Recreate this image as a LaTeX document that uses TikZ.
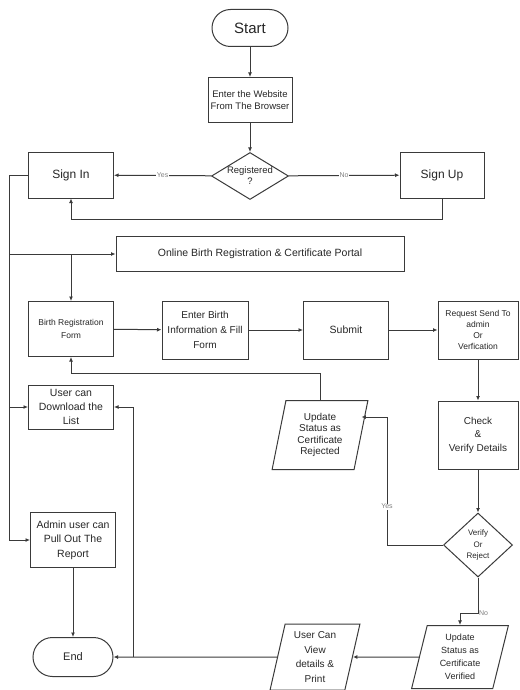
\documentclass[tikz,border=0pt]{standalone}
\usepackage{fontspec}
\setmainfont{Liberation Sans}
\usetikzlibrary{shapes.geometric,shapes.misc,arrows.meta,calc}
\definecolor{linec}{HTML}{3A3A3A}
\definecolor{textc}{HTML}{262626}
\newcommand\fsz[2]{\fontsize{#1}{#2}\selectfont}

\begin{document}
\begin{tikzpicture}[x=1pt,y=-1pt,line width=1pt,draw=linec,
 box/.style={draw=linec,text=textc,rectangle,align=center,inner sep=1pt},
 term/.style={draw=linec,text=textc,rounded rectangle,inner sep=1pt},
 dec/.style={draw=linec,text=textc,diamond,align=center,inner sep=0pt},
 io/.style={draw=linec,text=textc,trapezium,trapezium left angle=78,trapezium right angle=102,
  trapezium stretches=true,align=center,inner sep=1pt},
 lab/.style={text=gray,fill=white,inner sep=0.5pt,font=\fsz{7}{8}},
 arr/.style={-{Latex[length=4.5pt,width=4pt]}}]

\useasboundingbox (0,0) rectangle (519,690);

\node[term,minimum width=78,minimum height=37,font=\fsz{15}{18}] (start) at (250,28) {Start};
\node[box,minimum width=84,minimum height=45,font=\fsz{9.5}{11.7}] (web) at (250,100) {Enter the Website\\From The Browser};
\node[dec,minimum width=77,minimum height=47,aspect=1.64,font=\fsz{9.5}{11}] (reg) at (250,176) {Registered\\?};
\node[box,minimum width=85,minimum height=46,font=\fsz{12}{14}] (signin) at (71,175) {Sign In};
\node[box,minimum width=84,minimum height=46,font=\fsz{12}{14}] (signup) at (442,175) {Sign Up};

\node[box,minimum width=288,minimum height=35,font=\fsz{10.5}{12}] (portal) at (260,254) {Online Birth Registration \& Certificate Portal};
\node[box,minimum width=85,minimum height=55,font=\fsz{8.5}{13}] (birthform) at (71,329) {Birth Registration\\Form};
\node[box,minimum width=86,minimum height=58,font=\fsz{10}{15}] (info) at (205,330) {Enter Birth\\Information \& Fill\\Form};
\node[box,minimum width=85,minimum height=58,font=\fsz{10.5}{12}] (submit) at (346,330) {Submit};
\node[box,minimum width=80,minimum height=58,font=\fsz{8.5}{11}] (request) at (478,330) {Request Send To\\admin\\Or\\Verfication};

\node[box,minimum width=85,minimum height=44,font=\fsz{10.5}{14}] (dl) at (71,407) {User can\\Download the\\List};
\node[io,minimum width=96,minimum height=69,font=\fsz{10}{11.2}] (rejected) at (320,435) {Update\\Status as\\Certificate\\Rejected};
\node[box,minimum width=80,minimum height=68,font=\fsz{10}{13.5}] (check) at (478,435) {Check\\\&\\Verify Details};

\node[box,minimum width=85,minimum height=55,font=\fsz{10.5}{14.5}] (admin) at (73,540) {Admin user can\\Pull Out The\\Report};
\node[dec,minimum width=69,minimum height=64,aspect=1.08,font=\fsz{8}{11.5}] (verify) at (478,545) {Verify\\Or\\Reject};

\node[term,minimum width=82,minimum height=39,font=\fsz{11}{13}] (endn) at (73,657) {End};
\node[io,minimum width=90,minimum height=66,font=\fsz{10}{14.5}] (view) at (315,657) {User Can\\View\\details \&\\Print};
\node[io,minimum width=97,minimum height=63,font=\fsz{9}{13}] (verified) at (460,657) {Update\\Status as\\Certificate\\Verified};

\coordinate (spine) at (9,175);
\coordinate (yesbend) at (387,417);

\draw[arr] (start) -- (web);
\draw[arr] (web) -- (reg);
\draw[arr] (reg) -- node[lab]{Yes} (signin);
\draw[arr] (reg) -- node[lab]{No} (signup);
\draw[arr] (signup.south) -- ++(0,21) -| (signin.south);

\draw[arr] (signin.west) -- (spine) |- (admin.west);
\draw[arr] (spine |- portal) -- (portal.west);
\draw[arr] (spine |- dl) -- (dl.west);
\draw[arr] (birthform.north |- portal) -- (birthform);

\draw[arr] (birthform) -- (info);
\draw[arr] (info) -- (submit);
\draw[arr] (submit) -- (request);
\draw[arr] (request) -- (check);
\draw[arr] (check) -- (verify);

\draw[arr] (verify.west) -| node[lab,pos=0.65]{Yes} (yesbend) -- (yesbend -| rejected.east);
\draw[arr] (rejected.north) -- ++(0,-26) -| (birthform.south);
\draw[arr] (verify.south) -- ++(0,36) node[lab,right=0pt]{No} -| (verified.north);

\draw[arr] (verified) -- (view);
\draw[arr] (view) -- (endn);
\draw[arr] ($(endn.east)+(20,0)$) |- (dl.east);
\draw[arr] (admin) -- (endn);

\end{tikzpicture}
\end{document}
